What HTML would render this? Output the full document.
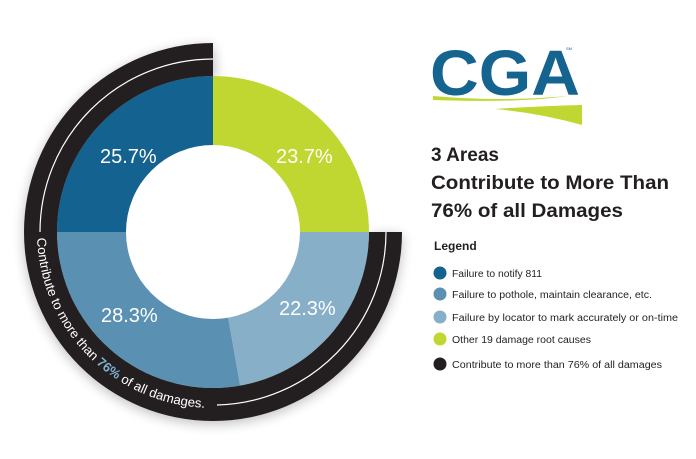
<!DOCTYPE html>
<html><head><meta charset="utf-8"><style>
html,body{margin:0;padding:0;background:#fff;}
body{width:696px;height:459px;overflow:hidden;position:relative;font-family:"Liberation Sans",sans-serif;}
</style></head><body>
<svg width="696" height="459" viewBox="0 0 696 459" style="position:absolute;left:0;top:0">
<defs>
<filter id="sh" x="-20%" y="-20%" width="140%" height="140%"><feGaussianBlur stdDeviation="6"/></filter>
<path id="tp" d="M37.1,238.1 A176,176 0 0 0 213,408"/>
</defs>
<path d="M213,46 A189 189 0 1 0 402,235 L370,235 A156 156 0 1 1 216,79 Z" fill="#000" opacity="0.25" filter="url(#sh)"/>
<path d="M213,232 L57,232 A156 156 0 0 1 213,76 Z" fill="#14628f"/>
<path d="M213,232 L213,76 A156 156 0 0 1 369,232 Z" fill="#bfd730"/>
<path d="M213,232 L369,232 A156 156 0 0 1 240.1,385.6 Z" fill="#87b0c8"/>
<path d="M213,232 L240.1,385.6 A156 156 0 0 1 57,232 Z" fill="#5a91b2"/>
<circle cx="213" cy="232" r="87" fill="#fff"/>
<path d="M213,43 A189 189 0 1 0 402,232 L369,232 A156 156 0 1 1 213,76 Z" fill="#231f20"/>
<path d="M213,59 A173 173 0 0 0 40,232" fill="none" stroke="#fff" stroke-width="1.2"/>
<path d="M217,405 A173 173 0 0 0 386,232" fill="none" stroke="#fff" stroke-width="1.2"/>
<text font-size="13" fill="#fff" font-family="Liberation Sans, sans-serif"><textPath href="#tp" textLength="262" lengthAdjust="spacingAndGlyphs">Contribute to more than <tspan fill="#7fb0d0" font-weight="bold">76%</tspan> of all damages.</textPath></text>
<g fill="#fff" font-size="20" font-family="Liberation Sans, sans-serif">
<text x="100" y="163">25.7%</text>
<text x="276" y="163">23.7%</text>
<text x="101" y="322">28.3%</text>
<text x="279" y="315">22.3%</text>
</g>
<text x="430" y="95" font-size="64" font-weight="bold" fill="#156490" textLength="150" lengthAdjust="spacingAndGlyphs" font-family="Liberation Sans, sans-serif">CGA</text>
<text x="566" y="50" font-size="4" fill="#156490">SM</text>
<path d="M433,96 Q500,102 568,96 Q520,103 433,100 Z" fill="#bfd730"/>
<path d="M495,109 Q540,106 582,105 L582,125 Q540,113 495,109 Z" fill="#bfd730"/>
<g font-size="19" font-weight="bold" fill="#231f20" font-family="Liberation Sans, sans-serif">
<text x="431" y="161">3 Areas</text>
<text x="431" y="189" textLength="238" lengthAdjust="spacingAndGlyphs">Contribute to More Than</text>
<text x="431" y="217" textLength="192" lengthAdjust="spacingAndGlyphs">76% of all Damages</text>
</g>
<text x="434" y="250" font-size="12" font-weight="bold" fill="#231f20">Legend</text>
<g font-size="10" fill="#231f20">
<circle cx="440" cy="273" r="6.5" fill="#14628f"/><text x="452" y="277" textLength="90" lengthAdjust="spacingAndGlyphs">Failure to notify 811</text>
<circle cx="440" cy="294" r="6.5" fill="#5a91b2"/><text x="452" y="298" textLength="200" lengthAdjust="spacingAndGlyphs">Failure to pothole, maintain clearance, etc.</text>
<circle cx="440" cy="317" r="6.5" fill="#87b0c8"/><text x="452" y="321" textLength="226" lengthAdjust="spacingAndGlyphs">Failure by locator to mark accurately or on-time</text>
<circle cx="440" cy="339" r="6.5" fill="#bfd730"/><text x="452" y="343" textLength="139" lengthAdjust="spacingAndGlyphs">Other 19 damage root causes</text>
<circle cx="440" cy="364" r="6.5" fill="#231f20"/><text x="452" y="368" textLength="210" lengthAdjust="spacingAndGlyphs">Contribute to more than 76% of all damages</text>
</g>
</svg>
</body></html>
